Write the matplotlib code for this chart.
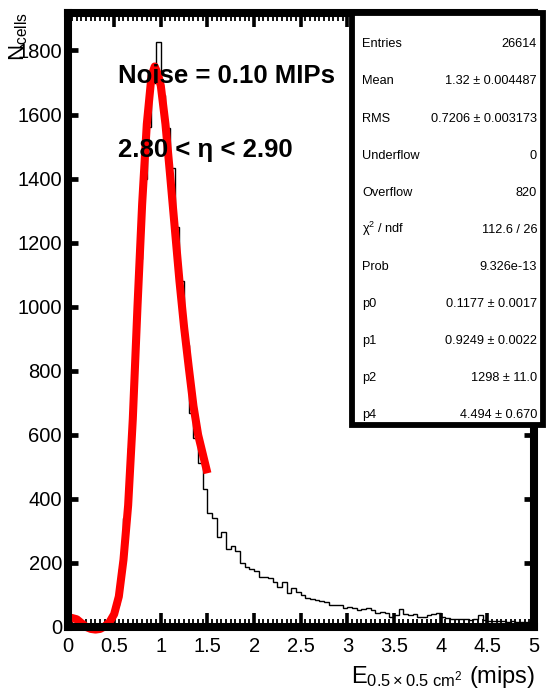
import numpy as np
import matplotlib
matplotlib.use("Agg")
import matplotlib.pyplot as plt
from matplotlib.patches import Rectangle
from matplotlib.ticker import MultipleLocator

plt.rcParams['font.family'] = ['Liberation Sans', 'DejaVu Sans']
plt.rcParams['mathtext.fontset'] = 'custom'
plt.rcParams['mathtext.rm'] = 'Liberation Sans'
plt.rcParams['mathtext.it'] = 'Liberation Sans:italic'
plt.rcParams['mathtext.bf'] = 'Liberation Sans:bold'

# ---------------- data ----------------
bin_edges = np.linspace(0.0, 5.0, 101)
counts = [
    0, 0, 0, 0, 0, 0, 0, 1, 4, 15,
    70, 180, 340, 560, 850, 1150, 1400, 1560, 1700, 1826,
    1662, 1559, 1434, 1250, 1079, 880, 667, 590, 512, 430,
    355, 340, 280, 298, 244, 253, 238, 199, 186, 180,
    174, 157, 155, 152, 142, 126, 142, 105, 121, 108,
    100, 90, 86, 84, 80, 78, 70, 69, 68, 58,
    63, 58, 53, 55, 58, 53, 45, 47, 44, 30,
    38, 56, 42, 38, 42, 30, 32, 37, 40, 44,
    30, 27, 26, 25, 24, 25, 22, 26, 38, 22,
    20, 19, 18, 19, 17, 18, 16, 17, 15, 16,
]

fit_x = [0.0, 0.05, 0.10, 0.15, 0.20, 0.25, 0.30, 0.35, 0.40, 0.45, 0.50,
         0.55, 0.60, 0.65, 0.70, 0.75, 0.80, 0.85, 0.90, 0.935, 0.97, 1.00,
         1.05, 1.10, 1.15, 1.20, 1.25, 1.30, 1.35, 1.40, 1.45, 1.50]
fit_y = [30, 28, 24, 12, 0, -6, -8, -6, 2, 15, 40,
         95, 210, 380, 650, 1000, 1320, 1570, 1720, 1750, 1725, 1690,
         1570, 1410, 1245, 1080, 935, 810, 690, 600, 540, 480]

x_ticks = [0, 0.5, 1, 1.5, 2, 2.5, 3, 3.5, 4, 4.5, 5]
x_tick_labels = ['0', '0.5', '1', '1.5', '2', '2.5', '3', '3.5', '4', '4.5', '5']
y_ticks = [0, 200, 400, 600, 800, 1000, 1200, 1400, 1600, 1800]

stat_names = ['Entries', 'Mean', 'RMS', 'Underflow', 'Overflow',
              r'$\mathregular{\chi^{2}}$ / ndf', 'Prob', 'p0', 'p1', 'p2', 'p4']
stat_values = ['26614', '1.32 \u00b1 0.004487', '0.7206 \u00b1 0.003173', '0', '820',
               '112.6 / 26', '9.326e-13', '0.1177 \u00b1 0.0017',
               '0.9249 \u00b1 0.0022', '1298 \u00b1 11.0', '4.494 \u00b1 0.670']

# ---------------- figure ----------------
W, H = 550, 694
fig = plt.figure(figsize=(W / 100, H / 100), dpi=100)

def fx(px):
    return px / W

def fy(py):
    return 1 - py / H

ax_l, ax_r, ax_t, ax_b = 67.5, 534, 13, 627
ax = fig.add_axes([fx(ax_l), fy(ax_b), (ax_r - ax_l) / W, (ax_b - ax_t) / H])

ax.stairs(counts, bin_edges, color='black', lw=1.0, zorder=2)
ax.plot(fit_x, fit_y, color='#ff0000', lw=5.8, solid_joinstyle='round',
        solid_capstyle='butt', zorder=3, clip_on=False)

ax.set_xlim(0, 5)
ax.set_ylim(0, 1917)

ax.set_xticks(x_ticks)
ax.set_xticklabels(x_tick_labels)
ax.xaxis.set_minor_locator(MultipleLocator(0.05))
ax.set_yticks(y_ticks)
ax.set_yticklabels([str(v) for v in y_ticks])

ax.tick_params(axis='x', which='major', direction='in', top=True, bottom=True,
               length=10, width=2.6, labelsize=14.5, pad=7, colors='black')
ax.tick_params(axis='x', which='minor', direction='in', top=True, bottom=True,
               length=6, width=1.3)
ax.tick_params(axis='y', which='major', direction='in', left=True, right=True,
               length=7, width=3.4, labelsize=14.5, pad=4)
ax.tick_params(axis='y', which='minor', left=False, right=False)

for sp in ax.spines.values():
    sp.set_linewidth(5.8)
    sp.set_capstyle('projecting')
    sp.set_zorder(5)

# stats box (drawn over the frame, as in the reference)
box_l, box_r, box_t, box_b = 351.5, 543, 13, 424.5
rect = Rectangle((fx(box_l), fy(box_b)), (box_r - box_l) / W, (box_b - box_t) / H,
                 transform=fig.transFigure, facecolor='white', edgecolor='black',
                 lw=4.2, clip_on=False, zorder=6, joinstyle='miter')
ax.add_patch(rect)

row0, row_step = 47.3, 37.1
for i, (nm, val) in enumerate(zip(stat_names, stat_values)):
    yb = row0 + i * row_step
    fig.text(fx(362), fy(yb), nm, ha='left', va='baseline', fontsize=9.2, zorder=10)
    fig.text(fx(537), fy(yb), val, ha='right', va='baseline', fontsize=9.2, zorder=10)

# annotations
ax.text(fx(118), fy(83.3), 'Noise = 0.10 MIPs', transform=fig.transFigure,
        ha='left', va='baseline', fontsize=18.5, fontweight='bold', zorder=10)
ax.text(fx(118), fy(156.7), '2.80 < \u03b7 < 2.90', transform=fig.transFigure,
        ha='left', va='baseline', fontsize=18.5, fontweight='bold', zorder=10)

# axis titles
fig.text(fx(535), fy(683), r'$\mathregular{E_{0.5\times0.5\ cm^{2}}}$ (mips)',
         ha='right', va='baseline', fontsize=17)
fig.text(fx(19), fy(12), r'$\mathregular{N_{cells}}$', rotation=90,
         ha='center', va='top', fontsize=16)

fig.savefig('out.png', dpi=100)
